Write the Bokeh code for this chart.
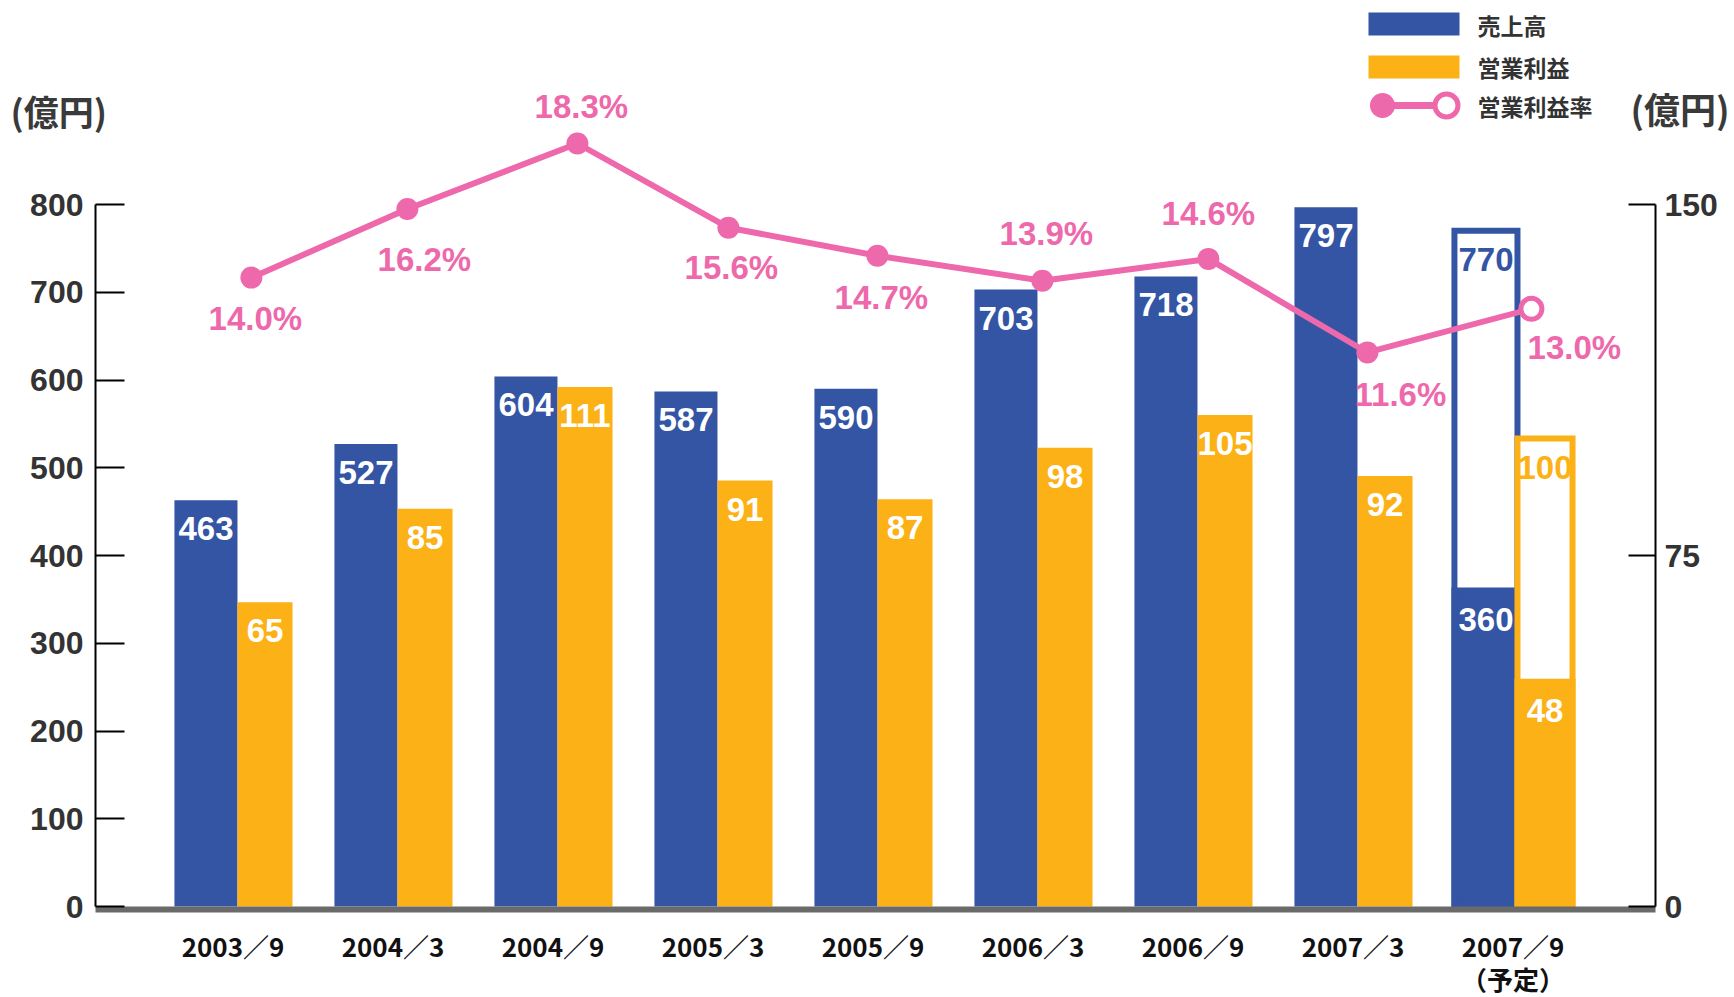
import numpy as np
from bokeh.plotting import figure
from bokeh.models import Range1d, LinearAxis, FixedTicker, ColumnDataSource
from bokeh.core.properties import value
from bokeh.embed import file_html
from bokeh.resources import INLINE

# ---------------- data ----------------
periods = ["2003／9", "2004／3", "2004／9", "2005／3", "2005／9",
           "2006／3", "2006／9", "2007／3", "2007／9\n（予定）"]
sales = [463, 527, 604, 587, 590, 703, 718, 797, 770]            # 売上高 (億円)
profit = [65, 85, 111, 91, 87, 98, 105, 92, 100]                 # 営業利益 (億円)
margin = [14.0, 16.2, 18.3, 15.6, 14.7, 13.9, 14.6, 11.6, 13.0]  # 営業利益率 (%)
plan_flag = [False, False, False, False, False, False, False, False, True]
plan_sales_h1 = 360
plan_profit_h1 = 48
left_ticks = [0, 100, 200, 300, 400, 500, 600, 700, 800]
right_ticks = [0, 75, 150]
legend_labels = ["売上高", "営業利益", "営業利益率"]
unit_label = "(億円)"

# ---------------- style / layout ----------------
BLUE = "#3355A4"
ORANGE = "#FCB116"
PINK = "#EE68AC"
TXT = "#333333"
NUMFONT = "Liberation Sans"
JPFONT = "Noto Sans CJK JP"

# horizontal nudges (px) of the margin markers, as drawn in the original
marker_shift_px = [4, 0, 10, 1, -10, -5, 1, 0, 4]
# offsets (px) of the margin labels from their markers
pct_label_dx = [4, 17, 4, 3, 4, 4, 0, 33, 43]
pct_label_dy = [41, 51, -37, 40, 42, -47, -45, 42, 39]

W, H = 1734, 997
CAT = 160.0           # px per category
C0 = 232.5            # px of first category centre
Y0 = 906              # px of value 0
PX = 702 / 800        # px per 億円 (left axis)
x_start = -C0 / CAT
x_end = x_start + W / CAT
y_top = Y0 / PX
y_bot = -(H - Y0) / PX
rs = right_ticks[-1] / left_ticks[-1]
PCT_PX = 31.19        # px per percentage point
PCT_REF_PX, PCT_REF = 143, 18.3
pct_top = PCT_REF + PCT_REF_PX / PCT_PX
pct_bot = PCT_REF - (H - PCT_REF_PX) / PCT_PX


def sx2d(sx):
    return x_start + sx / CAT


def sy2d(sy):
    return (Y0 - sy) / PX


p = figure(width=W, height=H, x_range=Range1d(x_start, x_end), y_range=Range1d(y_bot, y_top),
           output_backend="svg", toolbar_location=None, x_axis_type=None, y_axis_type=None,
           min_border=0, min_border_left=0, min_border_right=0,
           min_border_top=0, min_border_bottom=0)
p.outline_line_color = None
p.background_fill_color = "white"
p.border_fill_color = "white"
p.extra_y_ranges = {"profit": Range1d(y_bot * rs, y_top * rs),
                    "pct": Range1d(pct_bot, pct_top)}

AX_L, AX_R = 95, 1655   # px of the two vertical axes

# ---- axes ----
xa = LinearAxis(fixed_location=-3 / PX, ticker=FixedTicker(ticks=list(range(len(periods)))),
                bounds=(sx2d(AX_L), sx2d(AX_R)))
xa.major_label_overrides = {i: s for i, s in enumerate(periods)}
xa.major_tick_in = 0
xa.major_tick_out = 0
xa.minor_tick_line_color = None
xa.axis_line_width = 6
xa.axis_line_color = "#6a6a6a"
xa.major_label_standoff = 17
xa.major_label_text_font = JPFONT
xa.major_label_text_font_style = "bold"
xa.major_label_text_font_size = "26px"
xa.major_label_text_line_height = 0.9
xa.major_label_text_color = "#111111"

ya = LinearAxis(fixed_location=sx2d(AX_L), ticker=FixedTicker(ticks=left_ticks),
                bounds=(left_ticks[0], left_ticks[-1]))
ya.major_tick_in = 29
ya.major_tick_out = 0
ya.major_tick_line_width = 2
ya.minor_tick_line_color = None
ya.axis_line_width = 2
ya.axis_line_color = "black"
ya.major_label_standoff = 12
ya.major_label_text_font = NUMFONT
ya.major_label_text_font_style = "bold"
ya.major_label_text_font_size = "32px"
ya.major_label_text_color = TXT

ra = LinearAxis(y_range_name="profit", fixed_location=sx2d(AX_R),
                ticker=FixedTicker(ticks=right_ticks),
                bounds=(right_ticks[0], right_ticks[-1]))
ra.major_tick_in = 27
ra.major_tick_out = 0
ra.major_tick_line_width = 2
ra.minor_tick_line_color = None
ra.axis_line_width = 2
ra.axis_line_color = "black"
ra.major_label_standoff = 9
ra.major_label_text_font = NUMFONT
ra.major_label_text_font_style = "bold"
ra.major_label_text_font_size = "32px"
ra.major_label_text_color = TXT

p.add_layout(xa, "below")
p.add_layout(ya, "left")
p.add_layout(ra, "right")

# ---- bars ----
idx = np.arange(len(periods))
BOFF, BW = -0.169, 0.394
OOFF, OW = 0.200, 0.344
act = [i for i in idx if not plan_flag[i]]
pln = [i for i in idx if plan_flag[i]]

p.vbar(x=idx[act] + BOFF, top=[sales[i] for i in act], width=BW,
       fill_color=BLUE, line_color=None)
p.vbar(x=idx[act] + OOFF, top=[profit[i] for i in act], width=OW,
       fill_color=ORANGE, line_color=None, y_range_name="profit")

# planned period: outline = full-period plan, filled = first-half figure
p.vbar(x=idx[pln] + BOFF, top=[sales[i] for i in pln], width=BW,
       fill_color="white", line_color=BLUE, line_width=6, line_join="miter")
p.vbar(x=idx[pln] + BOFF, top=[plan_sales_h1] * len(pln), width=BW,
       fill_color=BLUE, line_color=BLUE, line_width=6, line_join="miter")
p.vbar(x=idx[pln] + OOFF, top=[profit[i] for i in pln], width=OW,
       fill_color="white", line_color=ORANGE, line_width=6, line_join="miter",
       y_range_name="profit")
p.vbar(x=idx[pln] + OOFF, top=[plan_profit_h1] * len(pln), width=OW,
       fill_color=ORANGE, line_color=ORANGE, line_width=6, line_join="miter",
       y_range_name="profit")

# ---- bar value labels ----
bl = ColumnDataSource(dict(
    x=list(idx + BOFF) + [i + BOFF for i in pln],
    y=sales + [plan_sales_h1] * len(pln),
    t=[str(v) for v in sales] + [str(plan_sales_h1)] * len(pln),
    c=[BLUE if plan_flag[i] else "white" for i in idx] + ["white"] * len(pln),
))
p.text(x="x", y="y", text="t", text_color="c", source=bl,
       text_font=value(NUMFONT), text_font_style="bold", text_font_size="33px",
       text_align="center", text_baseline="top", y_offset=17)
ol = ColumnDataSource(dict(
    x=list(idx + OOFF) + [i + OOFF for i in pln],
    y=profit + [plan_profit_h1] * len(pln),
    t=[str(v) for v in profit] + [str(plan_profit_h1)] * len(pln),
    c=[ORANGE if plan_flag[i] else "white" for i in idx] + ["white"] * len(pln),
))
p.text(x="x", y="y", text="t", text_color="c", source=ol, y_range_name="profit",
       text_font=value(NUMFONT), text_font_style="bold", text_font_size="33px",
       text_align="center", text_baseline="top", y_offset=17)

# ---- margin line ----
LOFF = 0.09
mx = idx + LOFF + np.array(marker_shift_px) / CAT
p.line(x=mx, y=margin, y_range_name="pct", line_color=PINK, line_width=6)
p.scatter(x=mx[act], y=[margin[i] for i in act], y_range_name="pct",
          size=22, fill_color=PINK, line_color=None)
p.scatter(x=mx[pln], y=[margin[i] for i in pln], y_range_name="pct",
          size=21, fill_color="white", line_color=PINK, line_width=5)
ml = ColumnDataSource(dict(x=mx, y=margin, t=[f"{m:.1f}%" for m in margin],
                           dx=pct_label_dx, dy=pct_label_dy))
p.text(x="x", y="y", text="t", source=ml, y_range_name="pct", x_offset="dx", y_offset="dy",
       text_color=PINK, text_font=value(NUMFONT), text_font_style="bold",
       text_font_size="33px", text_align="center", text_baseline="middle")

# ---- legend (drawn) ----
p.quad(left=[sx2d(1368)], right=[sx2d(1459)], top=[sy2d(12)], bottom=[sy2d(35)],
       fill_color=BLUE, line_color=None)
p.quad(left=[sx2d(1368)], right=[sx2d(1459)], top=[sy2d(55)], bottom=[sy2d(78)],
       fill_color=ORANGE, line_color=None)
p.line(x=[sx2d(1382), sx2d(1446)], y=[sy2d(105), sy2d(105)], line_color=PINK, line_width=7)
p.scatter(x=[sx2d(1382)], y=[sy2d(105)], size=25, fill_color=PINK, line_color=None)
p.scatter(x=[sx2d(1446)], y=[sy2d(105)], size=23, fill_color="white",
          line_color=PINK, line_width=5)
p.text(x=[sx2d(1477)] * 3, y=[sy2d(24), sy2d(66), sy2d(105)], text=legend_labels,
       text_color=TXT, text_font=value(JPFONT), text_font_style="bold",
       text_font_size="23px", text_align="left", text_baseline="middle")

# ---- unit labels ----
p.text(x=[sx2d(10)], y=[sy2d(110)], text=[unit_label], text_color="#3a3a3a",
       text_font=value(JPFONT), text_font_style="bold", text_font_size="35px",
       text_align="left", text_baseline="middle")
p.text(x=[sx2d(1630)], y=[sy2d(107)], text=[unit_label], text_color="#3a3a3a",
       text_font=value(JPFONT), text_font_style="bold", text_font_size="36px",
       text_align="left", text_baseline="middle")

open("out.html", "w").write(file_html(p, INLINE))
